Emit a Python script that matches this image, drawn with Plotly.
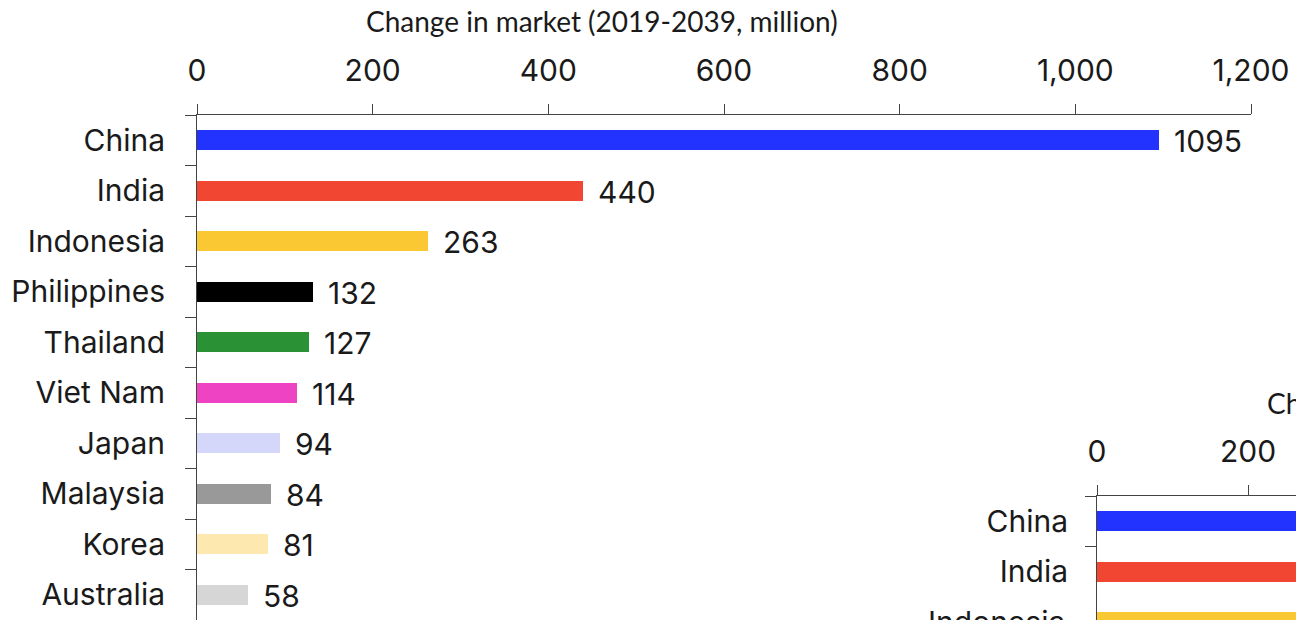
import plotly.graph_objects as go

# Growth in market size by country, 2019-2039 (million)
countries = ["China", "India", "Indonesia", "Philippines", "Thailand",
             "Viet Nam", "Japan", "Malaysia", "Korea", "Australia"]
change = [1095, 440, 263, 132, 127, 114, 94, 84, 81, 58]
colors = ["#2233FF", "#F04632", "#F9C832", "#000000", "#2A9235",
          "#EE44C4", "#D4D6FA", "#999999", "#FDE9B0", "#D6D6D6"]
x_ticks = [0, 200, 400, 600, 800, 1000, 1200]
x_title = "Change in market (2019-2039, million)"

W, H = 1296, 620
LABEL_FONT = dict(family="Inter", size=30, color="#1a1a1a")
TITLE_FONT = dict(family="Lato", size=28, color="#1a1a1a")
LINE = "#444444"

# main panel geometry (pixels)
main_left, main_right, main_top = 197, 1251, 115
row_px = (H - main_top) / len(countries)

# small repeated panel in the lower right corner
inset_left, inset_top = 1097, 496
inset_px_per_unit = 151 / 200
inset_xmax = (W - inset_left) / inset_px_per_unit
inset_ymax = -0.5 + (H - inset_top) / row_px

fig = go.Figure()

fig.add_trace(go.Bar(
    x=change, y=countries, orientation="h", width=0.4,
    marker=dict(color=colors, line=dict(width=0)),
    xaxis="x", yaxis="y", hoverinfo="x+y", showlegend=False,
))
fig.add_trace(go.Bar(
    x=change, y=countries, orientation="h", width=0.4,
    marker=dict(color=colors, line=dict(width=0)),
    xaxis="x2", yaxis="y2", hoverinfo="x+y", showlegend=False,
))

axis_common = dict(
    showline=True, linecolor=LINE, linewidth=1, ticks="outside",
    tickcolor=LINE, showgrid=False, zeroline=False, automargin=False,
    tickfont=LABEL_FONT,
)

fig.update_layout(
    width=W, height=H,
    margin=dict(l=0, r=0, t=0, b=0, pad=0),
    paper_bgcolor="white", plot_bgcolor="white",
    bargap=0,
    xaxis=dict(
        axis_common, domain=[main_left / W, main_right / W],
        range=[0, 1200], side="top", anchor="y",
        tickvals=x_ticks, tickformat=",", ticklen=10,
        ticklabelstandoff=11,
    ),
    yaxis=dict(
        axis_common, domain=[0, (H - main_top) / H], anchor="x",
        type="category", categoryorder="array", categoryarray=countries,
        range=[len(countries) - 0.5, -0.5], tickson="boundaries",
        ticklen=11, ticklabelstandoff=25,
    ),
    xaxis2=dict(
        axis_common, domain=[inset_left / W, 1], range=[0, inset_xmax],
        side="top", anchor="y2", tickvals=x_ticks, tickformat=",",
        ticklen=10, ticklabelstandoff=11,
    ),
    yaxis2=dict(
        axis_common, domain=[0, (H - inset_top) / H], anchor="x2",
        type="category", categoryorder="array", categoryarray=countries,
        range=[inset_ymax, -0.5], tickson="boundaries",
        ticklen=11, ticklabelstandoff=22,
    ),
)

# value labels next to each bar
for c, v in zip(countries, change):
    fig.add_annotation(
        x=v, y=c, xref="x", yref="y", text=str(v), showarrow=False,
        xanchor="left", yanchor="middle", xshift=13, yshift=-1,
        font=LABEL_FONT,
    )

# axis titles
fig.add_annotation(
    x=364 / W, y=1 - 21 / H, xref="paper", yref="paper", text=x_title,
    showarrow=False, xanchor="left", yanchor="middle", font=TITLE_FONT,
)
fig.add_annotation(
    x=(inset_left + 168) / W, y=1 - 403 / H, xref="paper", yref="paper",
    text=x_title, showarrow=False, xanchor="left", yanchor="middle",
    font=TITLE_FONT,
)

# third row label of the lower panel, which falls on the bottom edge
third_center_px = inset_top + 2.5 * row_px
fig.add_annotation(
    x=(inset_left - 30) / W, y=(H - third_center_px) / H,
    xref="paper", yref="paper", text=countries[2], showarrow=False,
    xanchor="right", yanchor="middle", font=LABEL_FONT,
)

fig.write_html("out.html")
